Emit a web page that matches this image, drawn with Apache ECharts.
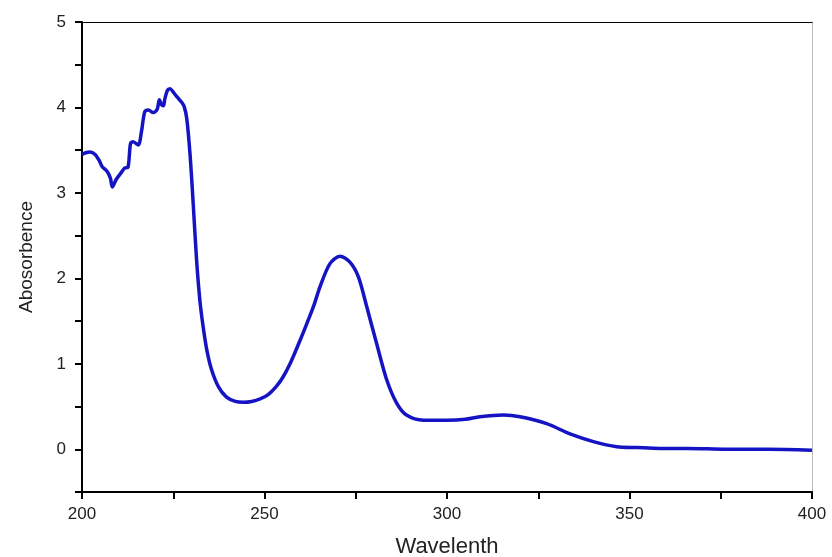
<!DOCTYPE html>
<html>
<head>
<meta charset="utf-8">
<script src="https://cdn.jsdelivr.net/npm/echarts@6/dist/echarts.min.js"></script>
<style>
  html, body { margin: 0; padding: 0; background: #fff; }
  #chart { width: 832px; height: 557px; }
</style>
</head>
<body>
<div id="chart"></div>
<script>
// wavelength (nm) and absorbance
var wavelength = [200, 201, 202.2, 203.6, 204.7, 205.5, 206.9, 207.8, 208.3, 209.4, 210.8, 211.7, 212.6, 213.3, 214,
  215.4, 216.3, 217.2, 218.2, 219.5, 220.6, 221.2, 221.8, 222.3, 222.7, 223.4, 224.1, 225, 226.1, 227.3, 228,
  228.7, 229.6, 230.5, 231.4, 232.3, 233.2, 234.2, 235.5, 237.4, 239.6, 242, 244.2, 246.5, 248.8, 251, 253.3,
  255, 257, 259.7, 261.6, 263.5, 265.2, 267.9, 270.7, 273.4, 275.7, 278, 280.7, 283.5, 286.2, 288.9, 293.5,
  299.9, 305, 309, 315.4, 320, 327.3, 333.7, 340.1, 346.5, 352, 358.4, 366, 376.6, 388, 400];
var absorbance = [3.45, 3.47, 3.48, 3.45, 3.38, 3.31, 3.25, 3.17, 3.07, 3.16, 3.24, 3.29, 3.30, 3.58, 3.60,
  3.56, 3.72, 3.95, 3.97, 3.94, 3.98, 4.09, 4.03, 4.02, 4.10, 4.20, 4.22, 4.18, 4.12, 4.06, 4.01,
  3.87, 3.45, 2.85, 2.21, 1.74, 1.43, 1.16, 0.93, 0.73, 0.61, 0.56, 0.55, 0.56, 0.59, 0.64, 0.74,
  0.84, 1.00, 1.27, 1.47, 1.68, 1.90, 2.17, 2.26, 2.19, 2.02, 1.67, 1.24, 0.81, 0.54, 0.40, 0.34,
  0.34, 0.35, 0.38, 0.40, 0.38, 0.30, 0.18, 0.09, 0.03, 0.02, 0.01, 0.01, 0.0, 0.0, -0.01];

var yTicks = [-0.5, 5];
var xTicks = [200, 400];

var points = wavelength.map(function (w, i) { return [w, absorbance[i]]; });

var chart = echarts.init(document.getElementById('chart'));
chart.setOption({
  backgroundColor: '#fff',
  animation: false,
  grid: { left: 82, right: 20, top: 22, bottom: 65, outerBoundsMode: 'none', containLabel: false },
  xAxis: [
    {
      type: 'value', min: xTicks[0], max: xTicks[1], interval: 50,
      name: 'Wavelenth', nameLocation: 'middle', nameGap: 44,
      nameTextStyle: { fontFamily: 'Liberation Sans', fontSize: 22, color: '#222' },
      axisLine: { show: true, onZero: false, lineStyle: { color: '#000', width: 2 } },
      axisTick: { show: true, length: 7, lineStyle: { color: '#000', width: 2 } },
      minorTick: { show: true, splitNumber: 2, length: 7, lineStyle: { color: '#000', width: 2 } },
      axisLabel: { fontFamily: 'Liberation Sans', fontSize: 17, color: '#222', margin: 14 },
      splitLine: { show: false }
    },
    {
      type: 'value', min: xTicks[0], max: xTicks[1], position: 'top',
      axisLine: { show: true, onZero: false, lineStyle: { color: '#000', width: 1 } },
      axisTick: { show: false }, axisLabel: { show: false }, splitLine: { show: false }
    }
  ],
  yAxis: [
    {
      type: 'value', min: yTicks[0], max: yTicks[1], interval: 0.5,
      name: 'Abosorbence', nameLocation: 'middle', nameGap: 46,
      nameTextStyle: { fontFamily: 'Liberation Sans', fontSize: 19, color: '#222' },
      axisLine: { show: true, onZero: false, lineStyle: { color: '#000', width: 2 } },
      axisTick: { show: true, length: 7, lineStyle: { color: '#000', width: 2 } },
      axisLabel: {
        fontFamily: 'Liberation Sans', fontSize: 17, color: '#222', margin: 16,
        formatter: function (v) { return Number.isInteger(v) ? String(v) : ''; }
      },
      splitLine: { show: false }
    },
    {
      type: 'value', min: yTicks[0], max: yTicks[1], position: 'right',
      axisLine: { show: true, onZero: false, lineStyle: { color: '#bbb', width: 1 } },
      axisTick: { show: false }, axisLabel: { show: false }, splitLine: { show: false }
    }
  ],
  series: [
    {
      type: 'line',
      data: points,
      showSymbol: false,
      smooth: 0.3,
      lineStyle: { color: '#1414c4', width: 3.5 }
    }
  ]
});
</script>
</body>
</html>
